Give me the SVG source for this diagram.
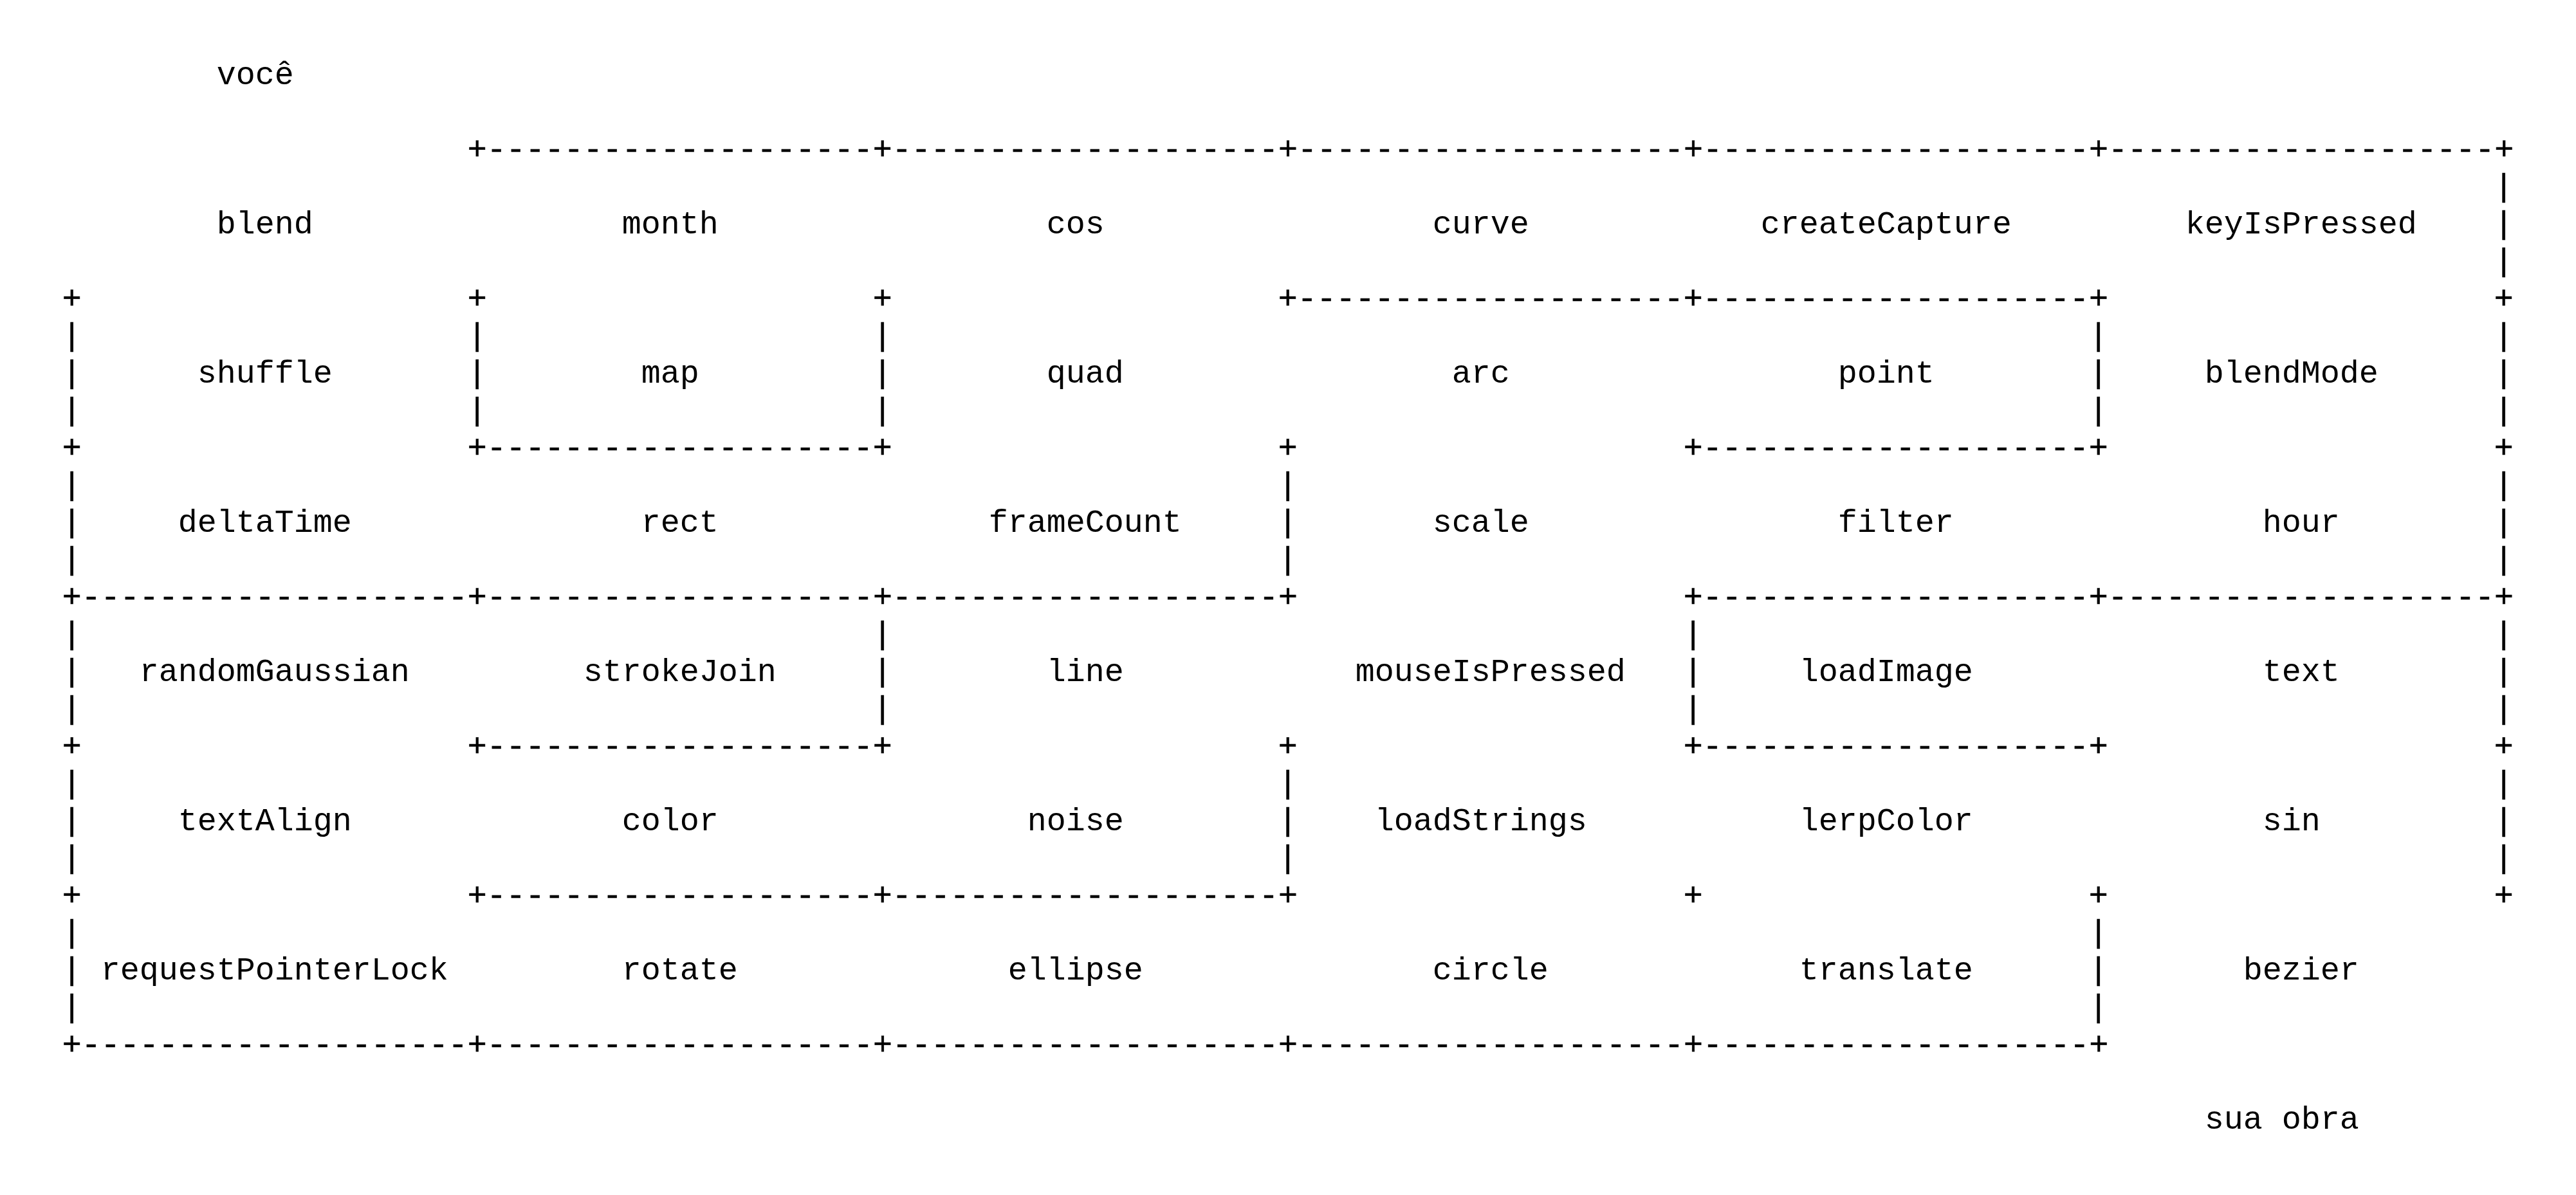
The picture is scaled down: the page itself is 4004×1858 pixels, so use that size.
<svg xmlns="http://www.w3.org/2000/svg" width="4004" height="1858" viewBox="0 0 4004 1858">
<style>
text { font-family: "Liberation Mono", "Courier New", monospace; font-size: 50px; fill: #000; white-space: pre; }
.w { stroke: #000; stroke-width: 0.6px; }
</style>
<rect x="0" y="0" width="4004" height="1858" fill="#ffffff"/>
<g id="walls">
<text class="w" x="726.7" y="247.3">+--------------------+--------------------+--------------------+--------------------+--------------------+</text>
<text class="w" x="3876.7" y="305.3">|</text>
<text class="w" x="3876.7" y="363.3">|</text>
<text class="w" x="3876.7" y="421.3">|</text>
<text class="w" x="96.7" y="479.3">+</text>
<text class="w" x="726.7" y="479.3">+</text>
<text class="w" x="1356.7" y="479.3">+</text>
<text class="w" x="1986.7" y="479.3">+--------------------+--------------------+</text>
<text class="w" x="3876.7" y="479.3">+</text>
<text class="w" x="96.7" y="537.3">|</text>
<text class="w" x="726.7" y="537.3">|</text>
<text class="w" x="1356.7" y="537.3">|</text>
<text class="w" x="3246.7" y="537.3">|</text>
<text class="w" x="3876.7" y="537.3">|</text>
<text class="w" x="96.7" y="595.3">|</text>
<text class="w" x="726.7" y="595.3">|</text>
<text class="w" x="1356.7" y="595.3">|</text>
<text class="w" x="3246.7" y="595.3">|</text>
<text class="w" x="3876.7" y="595.3">|</text>
<text class="w" x="96.7" y="653.3">|</text>
<text class="w" x="726.7" y="653.3">|</text>
<text class="w" x="1356.7" y="653.3">|</text>
<text class="w" x="3246.7" y="653.3">|</text>
<text class="w" x="3876.7" y="653.3">|</text>
<text class="w" x="96.7" y="711.3">+</text>
<text class="w" x="726.7" y="711.3">+--------------------+</text>
<text class="w" x="1986.7" y="711.3">+</text>
<text class="w" x="2616.7" y="711.3">+--------------------+</text>
<text class="w" x="3876.7" y="711.3">+</text>
<text class="w" x="96.7" y="769.3">|</text>
<text class="w" x="1986.7" y="769.3">|</text>
<text class="w" x="3876.7" y="769.3">|</text>
<text class="w" x="96.7" y="827.3">|</text>
<text class="w" x="1986.7" y="827.3">|</text>
<text class="w" x="3876.7" y="827.3">|</text>
<text class="w" x="96.7" y="885.3">|</text>
<text class="w" x="1986.7" y="885.3">|</text>
<text class="w" x="3876.7" y="885.3">|</text>
<text class="w" x="96.7" y="943.3">+--------------------+--------------------+--------------------+</text>
<text class="w" x="2616.7" y="943.3">+--------------------+--------------------+</text>
<text class="w" x="96.7" y="1001.3">|</text>
<text class="w" x="1356.7" y="1001.3">|</text>
<text class="w" x="2616.7" y="1001.3">|</text>
<text class="w" x="3876.7" y="1001.3">|</text>
<text class="w" x="96.7" y="1059.3">|</text>
<text class="w" x="1356.7" y="1059.3">|</text>
<text class="w" x="2616.7" y="1059.3">|</text>
<text class="w" x="3876.7" y="1059.3">|</text>
<text class="w" x="96.7" y="1117.3">|</text>
<text class="w" x="1356.7" y="1117.3">|</text>
<text class="w" x="2616.7" y="1117.3">|</text>
<text class="w" x="3876.7" y="1117.3">|</text>
<text class="w" x="96.7" y="1175.3">+</text>
<text class="w" x="726.7" y="1175.3">+--------------------+</text>
<text class="w" x="1986.7" y="1175.3">+</text>
<text class="w" x="2616.7" y="1175.3">+--------------------+</text>
<text class="w" x="3876.7" y="1175.3">+</text>
<text class="w" x="96.7" y="1233.3">|</text>
<text class="w" x="1986.7" y="1233.3">|</text>
<text class="w" x="3876.7" y="1233.3">|</text>
<text class="w" x="96.7" y="1291.3">|</text>
<text class="w" x="1986.7" y="1291.3">|</text>
<text class="w" x="3876.7" y="1291.3">|</text>
<text class="w" x="96.7" y="1349.3">|</text>
<text class="w" x="1986.7" y="1349.3">|</text>
<text class="w" x="3876.7" y="1349.3">|</text>
<text class="w" x="96.7" y="1407.3">+</text>
<text class="w" x="726.7" y="1407.3">+--------------------+--------------------+</text>
<text class="w" x="2616.7" y="1407.3">+</text>
<text class="w" x="3246.7" y="1407.3">+</text>
<text class="w" x="3876.7" y="1407.3">+</text>
<text class="w" x="96.7" y="1465.3">|</text>
<text class="w" x="3246.7" y="1465.3">|</text>
<text class="w" x="96.7" y="1523.3">|</text>
<text class="w" x="3246.7" y="1523.3">|</text>
<text class="w" x="96.7" y="1581.3">|</text>
<text class="w" x="3246.7" y="1581.3">|</text>
<text class="w" x="96.7" y="1639.3">+--------------------+--------------------+--------------------+--------------------+--------------------+</text>
</g>
<g id="n-voce"><text x="336.7" y="131.3">você</text></g>
<g id="n-blend"><text x="336.7" y="363.3">blend</text></g>
<g id="n-month"><text x="966.7" y="363.3">month</text></g>
<g id="n-cos"><text x="1626.7" y="363.3">cos</text></g>
<g id="n-curve"><text x="2226.7" y="363.3">curve</text></g>
<g id="n-createCapture"><text x="2736.7" y="363.3">createCapture</text></g>
<g id="n-keyIsPressed"><text x="3396.7" y="363.3">keyIsPressed</text></g>
<g id="n-shuffle"><text x="306.7" y="595.3">shuffle</text></g>
<g id="n-map"><text x="996.7" y="595.3">map</text></g>
<g id="n-quad"><text x="1626.7" y="595.3">quad</text></g>
<g id="n-arc"><text x="2256.7" y="595.3">arc</text></g>
<g id="n-point"><text x="2856.7" y="595.3">point</text></g>
<g id="n-blendMode"><text x="3426.7" y="595.3">blendMode</text></g>
<g id="n-deltaTime"><text x="276.7" y="827.3">deltaTime</text></g>
<g id="n-rect"><text x="996.7" y="827.3">rect</text></g>
<g id="n-frameCount"><text x="1536.7" y="827.3">frameCount</text></g>
<g id="n-scale"><text x="2226.7" y="827.3">scale</text></g>
<g id="n-filter"><text x="2856.7" y="827.3">filter</text></g>
<g id="n-hour"><text x="3516.7" y="827.3">hour</text></g>
<g id="n-randomGaussian"><text x="216.7" y="1059.3">randomGaussian</text></g>
<g id="n-strokeJoin"><text x="906.7" y="1059.3">strokeJoin</text></g>
<g id="n-line"><text x="1626.7" y="1059.3">line</text></g>
<g id="n-mouseIsPressed"><text x="2106.7" y="1059.3">mouseIsPressed</text></g>
<g id="n-loadImage"><text x="2796.7" y="1059.3">loadImage</text></g>
<g id="n-text"><text x="3516.7" y="1059.3">text</text></g>
<g id="n-textAlign"><text x="276.7" y="1291.3">textAlign</text></g>
<g id="n-color"><text x="966.7" y="1291.3">color</text></g>
<g id="n-noise"><text x="1596.7" y="1291.3">noise</text></g>
<g id="n-loadStrings"><text x="2136.7" y="1291.3">loadStrings</text></g>
<g id="n-lerpColor"><text x="2796.7" y="1291.3">lerpColor</text></g>
<g id="n-sin"><text x="3516.7" y="1291.3">sin</text></g>
<g id="n-requestPointerLock"><text x="156.7" y="1523.3">requestPointerLock</text></g>
<g id="n-rotate"><text x="966.7" y="1523.3">rotate</text></g>
<g id="n-ellipse"><text x="1566.7" y="1523.3">ellipse</text></g>
<g id="n-circle"><text x="2226.7" y="1523.3">circle</text></g>
<g id="n-translate"><text x="2796.7" y="1523.3">translate</text></g>
<g id="n-bezier"><text x="3486.7" y="1523.3">bezier</text></g>
<g id="n-sua-obra"><text x="3426.7" y="1755.3">sua obra</text></g>
</svg>
